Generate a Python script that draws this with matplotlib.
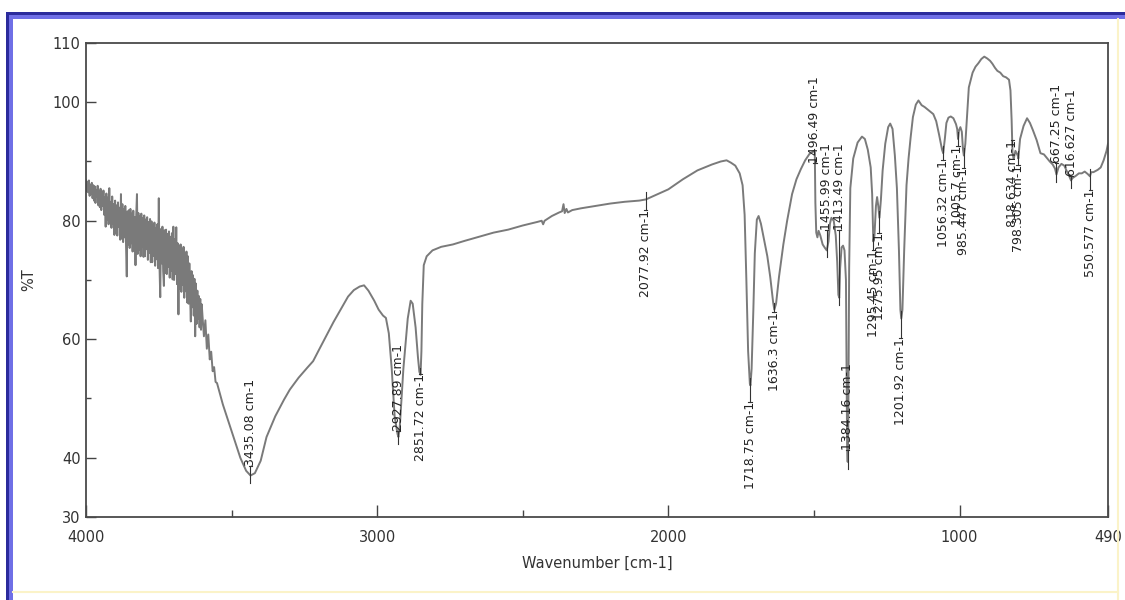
import matplotlib
matplotlib.use("Agg")
import matplotlib.pyplot as plt
from matplotlib.lines import Line2D
from matplotlib.patches import Rectangle

plt.rcParams['font.family'] = ['DejaVu Sans']

# Spectrum: wavenumber (cm-1) and %T
# noisy part at the high-wavenumber end
noise_wn = [
    4000, 3997.5, 3995, 3992.5, 3990, 3987.5, 3985, 3982.5, 3980, 3977.5,
    3975, 3972.5, 3970, 3967.5, 3965, 3962.5, 3960, 3957.5, 3955, 3952.5,
    3950, 3947.5, 3945, 3942.5, 3940, 3937.5, 3935, 3932.5, 3930, 3927.5,
    3925, 3922.5, 3920, 3917.5, 3915, 3912.5, 3910, 3907.5, 3905, 3902.5,
    3900, 3897.5, 3895, 3892.5, 3890, 3887.5, 3885, 3882.5, 3880, 3877.5,
    3875, 3872.5, 3870, 3867.5, 3865, 3862.5, 3860, 3857.5, 3855, 3852.5,
    3850, 3847.5, 3845, 3842.5, 3840, 3837.5, 3835, 3832.5, 3830, 3827.5,
    3825, 3822.5, 3820, 3817.5, 3815, 3812.5, 3810, 3807.5, 3805, 3802.5,
    3800, 3797.5, 3795, 3792.5, 3790, 3787.5, 3785, 3782.5, 3780, 3777.5,
    3775, 3772.5, 3770, 3767.5, 3765, 3762.5, 3760, 3757.5, 3755, 3752.5,
    3750, 3747.5, 3745, 3742.5, 3740, 3737.5, 3735, 3732.5, 3730, 3727.5,
    3725, 3722.5, 3720, 3717.5, 3715, 3712.5, 3710, 3707.5, 3705, 3702.5,
    3700, 3697.5, 3695, 3692.5, 3690, 3687.5, 3685, 3682.5, 3680, 3677.5,
    3675, 3672.5, 3670, 3667.5, 3665, 3662.5, 3660, 3657.5, 3655, 3652.5,
    3650, 3647.5, 3645, 3642.5, 3640, 3637.5, 3635, 3632.5, 3630, 3627.5,
    3625, 3622.5, 3620, 3617.5, 3615, 3612.5, 3610, 3607.5, 3605, 3602.5,
    3600, 3595, 3590, 3585, 3580, 3575, 3570, 3565, 3560, 3555, 3550,
]
noise_t = [
    86.9, 85.0, 86.6, 84.8, 86.8, 84.2, 86.1, 84.5, 86.4, 83.8,
    86.0, 83.4, 85.8, 83.0, 85.2, 84.0, 85.9, 82.6, 85.0, 82.3,
    85.4, 81.8, 84.9, 82.5, 85.1, 81.0, 84.0, 79.0, 84.6, 80.2,
    83.9, 79.4, 85.5, 80.0, 83.2, 78.8, 84.1, 79.5, 82.8, 77.6,
    83.4, 78.0, 82.6, 77.5, 83.1, 79.0, 82.2, 76.8, 84.5, 77.0,
    82.8, 76.4, 82.0, 77.2, 82.5, 75.8, 70.6, 81.6, 76.0, 81.8,
    75.4, 82.0, 76.2, 81.2, 74.8, 81.7, 75.0, 80.6, 72.5, 81.0,
    84.5, 74.4, 81.3, 75.1, 80.8, 74.0, 81.2, 75.6, 80.4, 73.9,
    80.9, 74.0, 80.2, 75.2, 80.6, 73.4, 79.8, 74.6, 80.3, 73.0,
    79.9, 73.0, 79.2, 74.1, 79.7, 72.4, 78.8, 73.5, 79.4, 72.0,
    83.8, 72.2, 67.1, 78.6, 72.8, 79.0, 71.5, 69.0, 78.4, 71.2,
    78.5, 71.0, 77.8, 72.2, 78.2, 70.4, 77.3, 71.6, 77.9, 70.1,
    79.0, 70.0, 76.9, 71.0, 78.9, 69.3, 76.2, 64.2, 75.8, 68.5,
    76.0, 68.0, 75.2, 69.2, 75.6, 67.0, 74.4, 68.1, 74.8, 66.2,
    74.0, 66.0, 72.8, 67.2, 63.0, 71.5, 65.4, 70.8, 64.0, 70.2,
    60.5, 69.4, 62.6, 68.2, 63.5, 67.3, 62.0, 66.8, 61.6, 65.9,
    64.0, 60.5, 63.2, 58.4, 60.8, 56.6, 57.9, 54.6, 55.3, 52.8, 52.6,
]
# smooth part of the trace
smooth_wn = [
    3530, 3500, 3470, 3450, 3435, 3420, 3400, 3380, 3350, 3320, 3300, 3270, 3240, 3220,
    3200, 3170, 3150, 3120, 3100, 3080, 3060, 3045, 3030, 3010, 2995, 2980, 2970, 2960,
    2950, 2940, 2930, 2927, 2922, 2910, 2895, 2885, 2878, 2868, 2860, 2855, 2851, 2848,
    2845, 2840, 2830, 2810, 2780, 2740, 2700, 2650, 2600, 2550, 2500, 2450, 2435, 2430,
    2425, 2400, 2375, 2365, 2360, 2356, 2350, 2345, 2330, 2300, 2250, 2200, 2150, 2100,
    2077, 2050, 2000, 1950, 1900, 1850, 1820, 1800, 1785, 1770, 1755, 1745, 1738, 1732,
    1726, 1720, 1718, 1714, 1708, 1703, 1696, 1690, 1682, 1670, 1660, 1650, 1640, 1636,
    1630, 1620, 1605, 1592, 1575, 1560, 1545, 1530, 1515, 1505, 1500, 1497, 1495, 1492,
    1488, 1484, 1478, 1470, 1462, 1456, 1450, 1445, 1440, 1432, 1425, 1420, 1416, 1413,
    1410, 1405, 1400, 1395, 1390, 1386, 1384, 1382, 1379, 1375, 1365, 1350, 1335, 1325,
    1315, 1305, 1300, 1296, 1292, 1287, 1283, 1279, 1275, 1270, 1264, 1255, 1245, 1238,
    1230, 1222, 1215, 1208, 1203, 1200, 1196, 1190, 1182, 1175, 1168, 1160, 1150, 1141,
    1130, 1120, 1110, 1100, 1090, 1080, 1070, 1060, 1056, 1050, 1045, 1038, 1030, 1021,
    1012, 1008, 1005, 1002, 997, 992, 988, 985, 980, 975, 968, 955, 945, 935, 925, 915,
    905, 895, 887, 878, 870, 860, 850, 840, 830, 825, 821, 818, 814, 808, 800, 798, 792,
    780, 768, 758, 748, 735, 722, 710, 700, 690, 680, 672, 667, 660, 650, 640, 630, 622,
    617, 612, 600, 590, 580, 570, 560, 552, 548, 540, 525, 515, 505, 495, 490,
]
smooth_t = [
    49.0, 44.5, 40.0, 37.8, 37.0, 37.4, 39.5, 43.5, 47.0, 49.8, 51.5, 53.5, 55.2, 56.3,
    58.2, 61.0, 62.9, 65.5, 67.2, 68.3, 68.9, 69.1, 68.2, 66.5, 65.0, 64.0, 63.6, 61.0,
    55.0, 47.0, 44.0, 43.5, 45.5, 55.0, 63.5, 66.5, 66.0, 62.0, 57.0, 54.5, 54.0, 58.0,
    66.0, 72.5, 74.0, 75.0, 75.6, 76.0, 76.6, 77.3, 78.0, 78.5, 79.2, 79.8, 80.0, 79.4,
    80.0, 80.8, 81.4, 81.6, 82.8, 81.3, 82.0, 81.4, 81.8, 82.1, 82.5, 82.9, 83.2, 83.4,
    83.6, 84.2, 85.3, 87.0, 88.5, 89.5, 90.0, 90.2, 89.8, 89.3, 88.0, 86.0, 81.0, 70.0,
    58.0, 52.5, 52.2, 55.0, 65.0, 74.5, 80.2, 80.8, 79.5, 76.5, 74.0, 70.5, 66.2, 65.0,
    66.0, 70.5, 76.0, 80.0, 84.5, 87.0, 88.7, 90.2, 91.3, 91.6, 91.8, 91.5, 83.0, 78.0,
    77.2, 78.3, 77.5, 76.0, 75.4, 75.0, 76.5, 79.5, 80.5, 80.0, 77.5, 73.0, 67.5, 67.0,
    72.0, 75.5, 75.8, 75.0, 70.0, 42.0, 39.3, 45.0, 72.0, 85.5, 90.5, 93.2, 94.2, 93.8,
    92.0, 89.0, 84.5, 76.5, 77.5, 82.5, 84.0, 82.5, 80.5, 83.5, 88.5, 93.0, 95.8, 96.4,
    95.5, 91.0, 85.5, 75.0, 65.0, 63.5, 65.0, 75.0, 86.0, 90.5, 94.0, 97.5, 99.6, 100.3,
    99.5, 99.2, 98.8, 98.4, 98.0, 96.8, 94.5, 92.0, 91.4, 94.0, 96.5, 97.4, 97.6, 97.3,
    96.3, 95.5, 93.8, 95.2, 95.8, 95.0, 92.0, 91.0, 93.0, 97.0, 102.5, 105.0, 106.0, 106.6,
    107.3, 107.7, 107.4, 107.0, 106.5, 105.8, 105.3, 105.0, 104.4, 104.2, 103.8, 102.0, 97.0,
    91.5, 90.4, 91.8, 91.0, 90.5, 93.8, 96.0, 97.3, 96.5, 95.3, 93.6, 91.4, 91.2, 90.6,
    90.0, 89.5, 88.8, 87.8, 89.0, 89.6, 89.3, 88.2, 87.4, 86.8, 87.2, 87.6, 88.0, 88.0,
    88.3, 87.9, 87.5, 88.2, 88.2, 88.6, 89.0, 90.2, 91.8, 93.0,
]
wavenumber = noise_wn + smooth_wn
transmittance = noise_t + smooth_t

# Peak labels: position, text, %T of the curve, %T where the label ends, side
peak_pos = [3435.08, 2927.89, 2851.72, 2077.92, 1718.75, 1636.3, 1496.49, 1455.99,
            1413.49, 1384.16, 1295.45, 1275.95, 1201.92, 1056.32, 1005.7, 985.447,
            818.634, 798.305, 667.25, 616.627, 550.577]
peak_text = ['3435.08', '2927.89', '2851.72', '2077.92', '1718.75', '1636.3', '1496.49',
             '1455.99', '1413.49', '1384.16', '1295.45', '1275.95', '1201.92', '1056.32',
             '1005.7', '985.447', '818.634', '798.305', '667.25', '616.627', '550.577']
peak_t = [37.0, 43.5, 54.0, 83.6, 52.2, 65.0, 91.5, 75.0, 67.0, 39.3, 76.5, 80.5,
          63.5, 91.4, 93.8, 91.0, 91.5, 90.5, 87.8, 86.8, 87.5]
label_t = [38.6, 44.5, 54.2, 81.8, 49.4, 64.6, 89.8, 78.4, 78.4, 41.3, 75.0, 78.0,
           60.2, 90.3, 92.6, 88.9, 93.6, 89.4, 89.7, 87.5, 85.2]
label_above = [True, True, False, False, False, False, True, True, True, True, False,
               False, False, False, False, False, False, False, True, True, False]

fig = plt.figure(figsize=(11.25, 6), dpi=100)
fig.patch.set_facecolor('white')
ax = fig.add_axes([86 / 1125, 83 / 600, 1022 / 1125, 474 / 600])

ax.plot(wavenumber, transmittance, color='#7a7a7a', lw=1.4)

for pos, txt, pt, lt, above in zip(peak_pos, peak_text, peak_t, label_t, label_above):
    if above:
        ax.plot([pos, pos], [pt - 1.2, lt], color='#333333', lw=0.8)
        va = 'bottom'
    else:
        ax.plot([pos, pos], [pt + 1.2, lt], color='#333333', lw=0.8)
        va = 'top'
    ax.plot([pos - 6, pos + 6], [lt, lt], color='#333333', lw=0.8)
    ax.text(pos, lt, txt + ' cm-1', rotation=90, ha='center', va=va,
            fontsize=9, color='#222222')

ax.set_xlim(4000, 490)
ax.set_ylim(30, 110)
ax.set_xticks([4000, 3000, 2000, 1000, 490])
ax.set_xticklabels(['4000', '3000', '2000', '1000', '490'])
ax.set_xticks([3500, 2500, 1500], minor=True)
ax.set_yticks([30, 40, 60, 80, 100, 110])
ax.set_yticks([50, 70, 90], minor=True)

ax.tick_params(axis='x', which='major', direction='in', length=9, width=1,
               color='#444444', pad=9, labelsize=10.5, labelcolor='#333333')
ax.tick_params(axis='x', which='minor', direction='in', length=5, width=1, color='#444444')
ax.tick_params(axis='y', which='major', direction='in', length=7, width=1,
               color='#444444', pad=4, labelsize=10.5, labelcolor='#333333')
ax.tick_params(axis='y', which='minor', direction='in', length=3.6, width=1, color='#444444')

for s in ax.spines.values():
    s.set_color('#4a4a4a')
    s.set_linewidth(1.3)

ax.set_xlabel('Wavenumber [cm-1]', fontsize=10.5, color='#333333', labelpad=8)
ax.set_ylabel('%T', fontsize=10.5, color='#333333', labelpad=12)

# blue frame round the picture (top and left) and faint yellow edges
fig.add_artist(Rectangle((6 / 1125, 0), 3 / 1125, 588 / 600, transform=fig.transFigure,
                         color='#2b2b9c', lw=0))
fig.add_artist(Rectangle((9 / 1125, 0), 4 / 1125, 585 / 600, transform=fig.transFigure,
                         color='#6f6fe6', lw=0))
fig.add_artist(Rectangle((6 / 1125, 585 / 600), 1119 / 1125, 3 / 600, transform=fig.transFigure,
                         color='#2b2b9c', lw=0))
fig.add_artist(Rectangle((9 / 1125, 581 / 600), 1116 / 1125, 4 / 600, transform=fig.transFigure,
                         color='#6f6fe6', lw=0))
fig.add_artist(Line2D([1118 / 1125, 1118 / 1125], [0, 581 / 600], transform=fig.transFigure,
                      color='#fbf3c8', lw=1.5))
fig.add_artist(Line2D([13 / 1125, 1118 / 1125], [8 / 600, 8 / 600], transform=fig.transFigure,
                      color='#fbf3c8', lw=1.5))

fig.savefig('out.png', dpi=100)
